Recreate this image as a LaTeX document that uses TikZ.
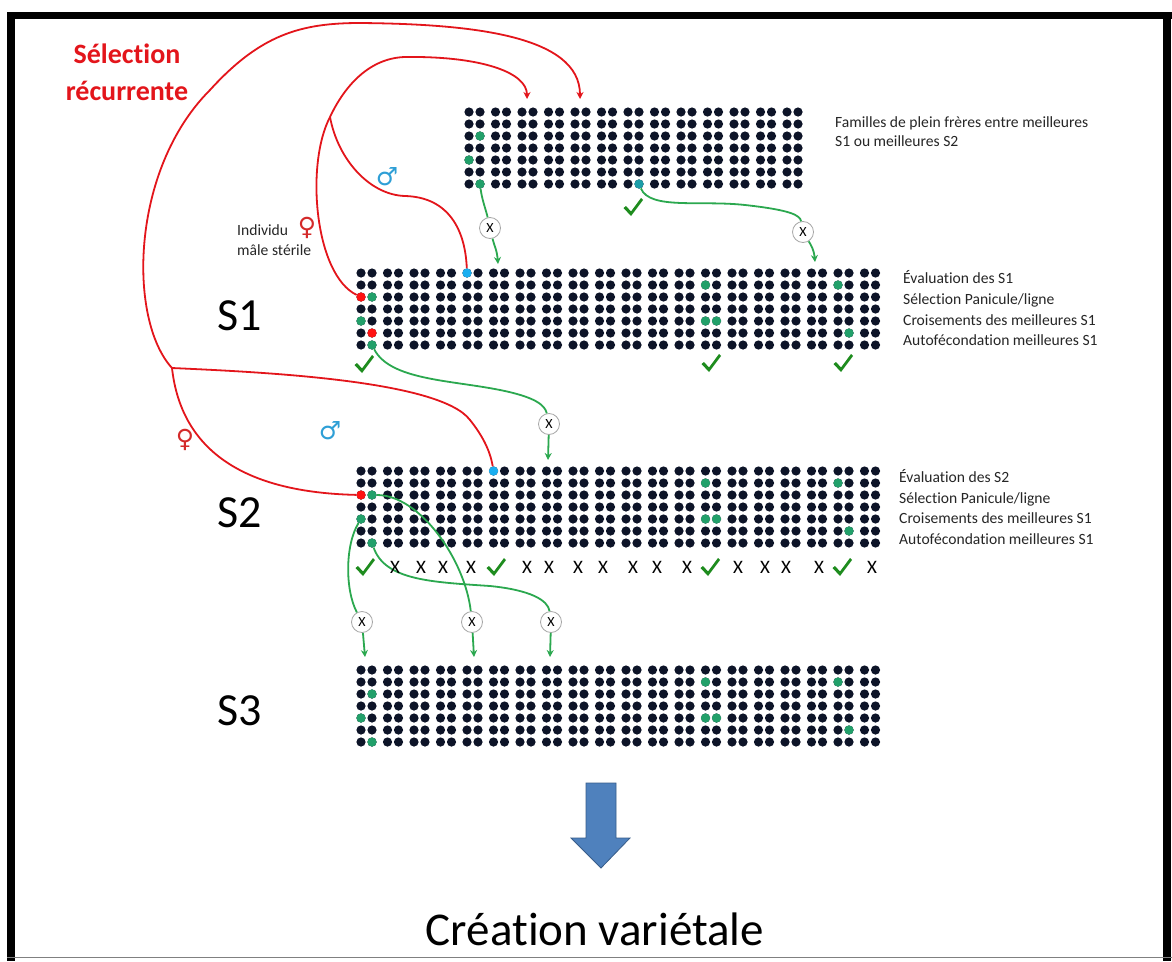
\documentclass[tikz,border=0pt]{standalone}
\usepackage{fontspec}
\setmainfont{Carlito}[Ligatures={NoCommon}]
\newfontfamily\djv{DejaVu Sans}
\usetikzlibrary{arrows.meta}
\definecolor{dotc}{HTML}{0D1428}
\definecolor{redl}{HTML}{E3151B}
\definecolor{reddot}{HTML}{FF1212}
\definecolor{bluedot}{HTML}{1AAEF0}
\definecolor{greendot}{HTML}{22A06A}
\definecolor{tealdot}{HTML}{1B9DA8}
\definecolor{greenl}{HTML}{2BA84F}
\definecolor{checkc}{HTML}{1E8C1E}
\definecolor{symblue}{HTML}{2E9FD6}
\definecolor{symred}{HTML}{D42A2A}
\definecolor{arrowb}{HTML}{4F81BD}
\definecolor{arrowbd}{HTML}{385D8A}
\newcommand{\dotgrid}[3]{%
  \foreach \p in {1,...,#3}{\foreach \d in {0,1}{\foreach \r in {0,...,6}{%
    \fill[dotc] ({#1+(\p-1)*26.5+\d*11},{#2+\r*12}) circle[radius=4.6pt];}}}}
\newcommand{\chk}[2]{%
  \fill[checkc] ({#1-9.5},{#2}) -- ({#1-7},{#2-2}) -- ({#1-2},{#2+3.5}) -- ({#1+8},{#2-10}) -- ({#1+10},{#2-8}) -- ({#1-2},{#2+8}) -- cycle;}
\begin{document}
\begin{tikzpicture}[x=1pt,y=-1pt,
  redline/.style={draw=redl, line width=1.8pt},
  greenline/.style={draw=greenl, line width=1.8pt},
  arr/.style={-{Stealth[length=7pt,width=7pt]}},
  sdot/.style={circle, inner sep=0pt, minimum size=9.2pt},
  crossc/.style={circle, draw=gray!70, fill=white, line width=0.8pt, minimum size=21pt, inner sep=0pt, font=\fontsize{14}{14}\selectfont},
  small/.style={font=\fontsize{15.6}{18}\selectfont, anchor=base west, inner sep=0pt, text=black!85},
  bigS/.style={font=\fontsize{46}{50}\selectfont, anchor=base, inner sep=0pt},
  xmark/.style={font=\fontsize{19}{20}\selectfont, anchor=base, inner sep=0pt},
  sym/.style={font=\djv\fontsize{25}{25}\selectfont, inner sep=0pt}
]
\useasboundingbox (0,0) rectangle (1172,961);
\fill[white] (0,0) rectangle (1172,961);

% grids
\dotgrid{469}{112}{13}
\dotgrid{361}{273}{20}
\dotgrid{361}{471}{20}
\dotgrid{361}{670}{20}

% top grid special dots
\node[sdot, fill=greendot] (tg0) at (480,136) {};
\node[sdot, fill=greendot] (tg00) at (469,160) {};
\node[sdot, fill=greendot] (tg) at (480,184) {};
\node[sdot, fill=tealdot] (tt) at (639,184) {};

% S1 special dots
\node[sdot, fill=reddot] (s1r) at (361,297) {};
\node[sdot, fill=greendot] (s1ga) at (372,297) {};
\node[sdot, fill=greendot] (s1gb) at (361,321) {};
\node[sdot, fill=reddot] (s1rb) at (372,333) {};
\node[sdot, fill=greendot] (s1g) at (372,345) {};
\node[sdot, fill=bluedot] (s1b) at (467,273) {};
\node[sdot, fill=greendot] (s1gc) at (705.5,285) {};
\node[sdot, fill=greendot] (s1gd) at (705.5,321) {};
\node[sdot, fill=greendot] (s1ge) at (716.5,321) {};
\node[sdot, fill=greendot] (s1gf) at (838,285) {};
\node[sdot, fill=greendot] (s1gg) at (849,333) {};

% S2 special dots
\node[sdot, fill=reddot] (s2r) at (361,495) {};
\node[sdot, fill=greendot] (s2g1) at (372,495) {};
\node[sdot, fill=greendot] (s2g2) at (361,519) {};
\node[sdot, fill=greendot] (s2g3) at (372,543) {};
\node[sdot, fill=bluedot] (s2b) at (493.5,471) {};
\node[sdot, fill=greendot] (s2gc) at (705.5,483) {};
\node[sdot, fill=greendot] (s2gd) at (705.5,519) {};
\node[sdot, fill=greendot] (s2ge) at (716.5,519) {};
\node[sdot, fill=greendot] (s2gf) at (838,483) {};
\node[sdot, fill=greendot] (s2gg) at (849,531) {};

% S3 special dots
\node[sdot, fill=greendot] (s3ga) at (372,694) {};
\node[sdot, fill=greendot] (s3gb) at (361,718) {};
\node[sdot, fill=greendot] (s3gc) at (372,742) {};
\node[sdot, fill=greendot] (s3gd) at (705.5,682) {};
\node[sdot, fill=greendot] (s3ge) at (705.5,718) {};
\node[sdot, fill=greendot] (s3gf) at (716.5,718) {};
\node[sdot, fill=greendot] (s3gg) at (838,682) {};
\node[sdot, fill=greendot] (s3gh) at (849,730) {};

% cross circles
\node[crossc] (cA) at (490,228) {X};
\node[crossc] (cB) at (803,232) {X};
\node[crossc] (cC) at (549,424) {X};
\node[crossc] (cD) at (362,622) {X};
\node[crossc] (cE) at (472,622) {X};
\node[crossc] (cF) at (551,622) {X};

% arrow targets
\coordinate (tA1) at (498,264);
\coordinate (tB1) at (815,262);
\coordinate (tC1) at (548,460);
\coordinate (tD) at (365,657);
\coordinate (tE) at (474,657);
\coordinate (tF) at (550,657);
\coordinate (rA) at (527,99);
\coordinate (rB) at (580,99);
\coordinate (jA) at (330,117);
\coordinate (jB) at (172,368);

% green connectors
\draw[greenline] (tg) .. controls (482,200) and (486,210) .. (cA);
\draw[greenline,arr] (cA) .. controls (494,245) and (497,250) .. (tA1);
\draw[greenline] (tt) .. controls (650,210) and (700,200) .. (745,205) .. controls (790,210) and (800,215) .. (cB);
\draw[greenline,arr] (cB) .. controls (811,245) and (814,250) .. (tB1);
\draw[greenline] (s1g) .. controls (390,380) and (450,380) .. (500,390) .. controls (535,397) and (545,405) .. (cC);
\draw[greenline,arr] (cC) -- (tC1);
\draw[greenline] (s2g1) .. controls (420,495) and (465,560) .. (cE);
\draw[greenline] (s2g2) .. controls (345,545) and (345,590) .. (cD);
\draw[greenline] (s2g3) .. controls (385,580) and (430,582) .. (490,586) .. controls (530,590) and (548,600) .. (cF);
\draw[greenline,arr] (cD) -- (tD);
\draw[greenline,arr] (cE) -- (tE);
\draw[greenline,arr] (cF) -- (tF);

% red connectors: inner system
\draw[redline,arr] (jA) .. controls (345,85) and (370,58) .. (405,57) .. controls (480,56) and (527,72) .. (rA);
\draw[redline] (jA) .. controls (305,165) and (315,275) .. (s1r);
\draw[redline] (jA) .. controls (338,160) and (370,195) .. (405,196) .. controls (445,197) and (465,225) .. (s1b);
% red connectors: outer system
\draw[redline,arr] (jB) .. controls (128,320) and (130,170) .. (210,90) .. controls (260,35) and (300,23) .. (360,23) .. controls (470,24) and (580,35) .. (rB);
\draw[redline] (jB) .. controls (260,372) and (440,380) .. (470,420) .. controls (482,435) and (490,450) .. (s2b);
\draw[redline] (jB) .. controls (180,440) and (230,492) .. (s2r);

% sex symbols
\node[sym, text=symblue] (m1) at (387,177) {♂};
\node[sym, text=symred] (f1) at (307,228) {♀};
\node[sym, text=symblue] (m2) at (330,431) {♂};
\node[sym, text=symred] (f2) at (185,440) {♀};

% checks
\chk{633}{208}
\chk{364}{365}
\chk{711}{364}
\chk{843}{364}
\chk{365}{568}
\chk{496}{568}
\chk{710}{568}
\chk{842}{568}

% X marks
\foreach \xx [count=\i] in {395,421,443,471,527,549,578,603,633,657,687,738,765,786,819,872}{
  \node[xmark] (xm\i) at (\xx,573) {X};}

% texts
\node[font=\bfseries\fontsize{28}{30}\selectfont, text=redl, anchor=base] (sel1) at (127,63) {Sélection};
\node[font=\bfseries\fontsize{28}{30}\selectfont, text=redl, anchor=base] (sel2) at (127,100) {récurrente};
\node[small] (ind1) at (237,235) {Individu};
\node[small] (ind2) at (237,255) {mâle stérile};
\node[small] (fam1) at (835,127) {Familles de plein frères entre meilleures};
\node[small] (fam2) at (835,146) {S1 ou meilleures S2};
\node[small] (e11) at (903,283) {Évaluation des S1};
\node[small] (e12) at (903,304) {Sélection Panicule/ligne};
\node[small] (e13) at (903,325) {Croisements des meilleures S1};
\node[small] (e14) at (903,345) {Autofécondation meilleures S1};
\node[small] (e21) at (899,482) {Évaluation des S2};
\node[small] (e22) at (899,503) {Sélection Panicule/ligne};
\node[small] (e23) at (899,523) {Croisements des meilleures S1};
\node[small] (e24) at (899,544) {Autofécondation meilleures S1};
\node[bigS] (lS1) at (240,330) {S1};
\node[bigS] (lS2) at (240,527) {S2};
\node[bigS] (lS3) at (240,725) {S3};
\node[font=\fontsize{47}{50}\selectfont, anchor=base, inner sep=0pt] (crea) at (595,945) {Création variétale};

% block arrow
\filldraw[fill=arrowb, draw=arrowbd, line width=0.8pt] (586,783) -- (616,783) -- (616,838) -- (630,838) -- (601,868) -- (571,838) -- (586,838) -- cycle;

% frame
\fill[black] (7,12) rectangle (1172,19);
\fill[black] (7,12) rectangle (15,961);
\fill[black] (1163,12) rectangle (1171,961);
\draw[gray, line width=1pt] (7,957) -- (1172,957);
\end{tikzpicture}
\end{document}
